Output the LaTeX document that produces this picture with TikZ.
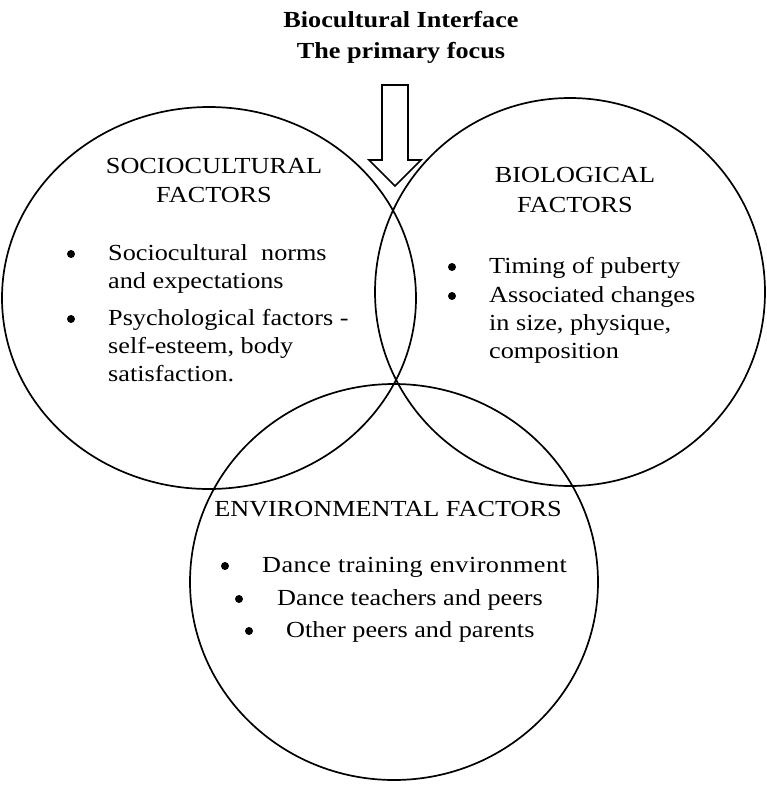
\documentclass[tikz,border=0pt]{standalone}
\usepackage{fontspec}
\setmainfont{Liberation Serif}[FakeStretch=1.14]
\usetikzlibrary{positioning}

\begin{document}
\begin{tikzpicture}[x=1pt, y=-1pt,
  lbl/.style={font=\fontsize{23}{28}\selectfont, inner sep=0pt},
  hd/.style={lbl, anchor=base},
  itm/.style={lbl, anchor=north west, align=left},
  dot/.style={circle, fill=black, inner sep=0pt, minimum size=8pt},
  ring/.style={line width=1.7pt}]
  \useasboundingbox (0,0) rectangle (767,785);

  % Title
  \node[lbl, anchor=north, font=\fontsize{23}{31}\selectfont\bfseries, align=center] (title) at (401, 11) {Biocultural Interface\\The primary focus};

  % Circles
  \draw[ring] (209, 298) ellipse [x radius=207, y radius=191];
  \draw[ring] (570, 292) ellipse [x radius=195, y radius=194];
  \draw[ring] (394, 582) ellipse [x radius=204, y radius=198];

  % Arrow down to the interface
  \draw[ring, fill=white] (382, 85) -- (408, 85) -- (408, 160) -- (421, 160) -- (395, 186)
    -- (369, 160) -- (382, 160) -- cycle;

  % Sociocultural factors
  \node[hd] (socio) at (214, 173) {SOCIOCULTURAL};
  \node[hd] (sociof) at (214, 202) {FACTORS};
  \node[dot] (s1dot) at (71, 254) {};
  \node[itm] (s1) at (108, 244) {Sociocultural\ \ norms\\and expectations};
  \node[dot] (s2dot) at (71, 319) {};
  \node[itm] (s2) at (108, 309) {Psychological factors -\\self-esteem, body\\satisfaction.};

  % Biological factors
  \node[hd] (bio) at (575, 182) {BIOLOGICAL};
  \node[hd] (biof) at (575, 212) {FACTORS};
  \node[dot] (b1dot) at (452, 267) {};
  \node[itm] (b1) at (489, 257) {Timing of puberty};
  \node[dot] (b2dot) at (452, 296) {};
  \node[itm] (b2) at (489, 286) {Associated changes\\in size, physique,\\composition};

  % Environmental factors
  \node[hd] (env) at (388, 516) {ENVIRONMENTAL FACTORS};
  \node[dot] (e1dot) at (225, 566) {};
  \node[itm, anchor=base west, font=\fontsize{23}{28}\selectfont\addfontfeature{LetterSpace=2.0}] (e1) at (262, 572) {Dance training environment};
  \node[dot] (e2dot) at (239, 599) {};
  \node[itm, anchor=base west] (e2) at (277, 605) {Dance teachers and peers};
  \node[dot] (e3dot) at (249, 631) {};
  \node[itm, anchor=base west] (e3) at (286, 637) {Other peers and parents};
\end{tikzpicture}
\end{document}
